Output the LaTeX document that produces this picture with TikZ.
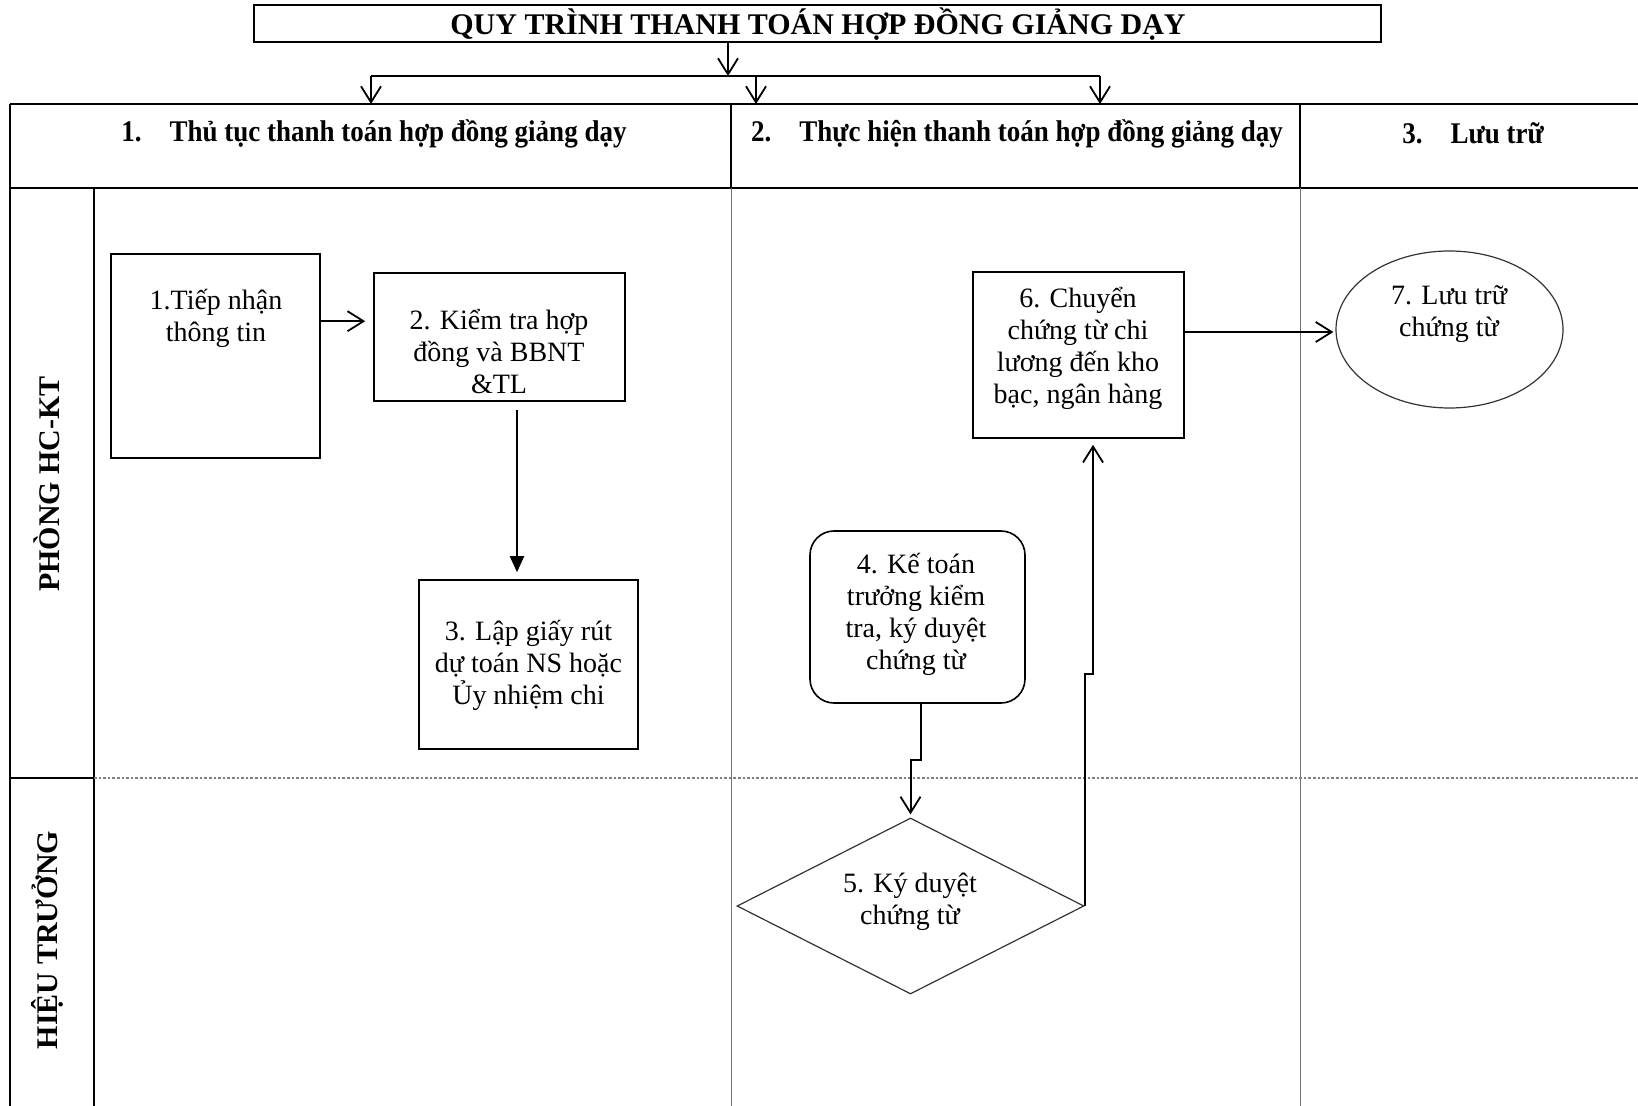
\documentclass[tikz,border=0pt]{standalone}
\usepackage{fontspec}
\setmainfont{Liberation Serif}
\newfontfamily\hdrfont{Liberation Serif}[FakeStretch=0.9]
\usetikzlibrary{shapes.geometric, arrows.meta, calc}

\begin{document}
\begin{tikzpicture}[x=0.5pt,y=-0.5pt,
  proc/.style={draw=black, line width=0.8pt, rectangle, inner sep=0pt},
  rproc/.style={draw=black, line width=0.8pt, rectangle, rounded corners=12pt, inner sep=0pt},
  dec/.style={draw=black!80, line width=0.6pt, diamond, inner sep=0pt},
  store/.style={draw=black!80, line width=0.6pt, ellipse, inner sep=0pt},
  lbl/.style={font=\fontsize{14pt}{16pt}\selectfont, align=center, inner sep=0pt},
  conn/.style={line width=1pt, -{Straight Barb[length=8pt,width=10pt,line width=0.9pt]}},
  fconn/.style={line width=1pt, -{Triangle[length=8pt,width=7pt]}},
  hdr/.style={font=\hdrfont\bfseries\fontsize{15pt}{18pt}\selectfont, inner sep=0pt},
  ttl/.style={font=\bfseries\fontsize{15pt}{18pt}\selectfont, inner sep=0pt},
  lane/.style={font=\bfseries\fontsize{15pt}{18pt}\selectfont, rotate=90, inner sep=0pt},
  tline/.style={line width=1.3pt},
  gline/.style={line width=0.5pt, draw=black!55},
  laneline/.style={line width=1.3pt, draw=black!50, densely dotted}
]
\useasboundingbox (0,0) rectangle (1638,1106);

% title
\node[draw=black, line width=0.8pt, minimum width=563.5pt, minimum height=18.5pt, inner sep=0pt] (tt) at (817.5,23.5) {};
\node[ttl] (ttt) at (818,24) {QUY TRÌNH THANH TOÁN HỢP ĐỒNG GIẢNG DẠY};

% bracket
\coordinate (tarr) at (728,42);
\coordinate (brL) at (371,76);
\coordinate (brM) at (756,76);
\coordinate (brR) at (1100,76);
\coordinate (brT) at (728,76);
\coordinate (c1) at (371,104);
\coordinate (c2) at (756,104);
\coordinate (c3) at (1100,104);
\draw[conn] (tarr) -- (brT);
\draw[tline] (brL) -- (brR);
\draw[conn] (brL) -- (c1);
\draw[conn] (brM) -- (c2);
\draw[conn] (brR) -- (c3);

% table
\draw[tline] (10,104) -- (1638,104);
\draw[tline] (10,188) -- (1638,188);
\draw[tline] (10,104) -- (10,1106);
\draw[line width=0.8pt] (94,188) -- (94,1106);
\draw[line width=0.6pt] (731,104) -- (731,188);
\draw[line width=0.6pt] (1300,104) -- (1300,188);
\draw[gline] (731,188) -- (731,1106);
\draw[gline] (1300,188) -- (1300,1106);
\draw[tline] (10,778) -- (94,778);
\draw[laneline] (94,778) -- (1638,778);

% headers
\node[hdr] (h1) at (374,134) {1.\hspace{14pt}Thủ tục thanh toán hợp đồng giảng dạy};
\node[hdr] (h2) at (1017,134) {2.\hspace{14pt}Thực hiện thanh toán hợp đồng giảng dạy};
\node[hdr] (h3) at (1473,133) {3.\hspace{14pt}Lưu trữ};

% lanes
\node[lane] (l1) at (47,484) {PHÒNG HC-KT};
\node[lane] (l2) at (47,940) {HIỆU TRƯỞNG};

% shapes
\node[proc, minimum width=104.5pt, minimum height=102pt] (b1) at (215.5,356) {};
\node[proc, minimum width=125.5pt, minimum height=64pt] (b2) at (499.5,337) {};
\node[proc, minimum width=109.5pt, minimum height=84.5pt] (b3) at (528.5,664.5) {};
\node[rproc, minimum width=107.5pt, minimum height=86pt] (b4) at (917.5,617) {};
\node[dec, minimum width=173.5pt, minimum height=88pt] (b5) at (910.5,906) {};
\node[proc, minimum width=105.5pt, minimum height=83pt] (b6) at (1078.5,355) {};
\node[store, minimum width=113.5pt, minimum height=78.5pt] (b7) at (1449.5,329.5) {};

% texts
\node[lbl] (t1) at (216,318) {1.Tiếp nhận\\thông tin};
\node[lbl] (t2) at (499,351) {2. Kiểm tra hợp\\đồng và BBNT\\\&TL};
\node[lbl] (t3) at (528.5,665) {3. Lập giấy rút\\dự toán NS hoặc\\Ủy nhiệm chi};
\node[lbl] (t4) at (916,614) {4. Kế toán\\trưởng kiểm\\tra, ký duyệt\\chứng từ};
\node[lbl] (t5) at (910,902) {5. Ký duyệt\\chứng từ};
\node[lbl] (t6) at (1078,348) {6. Chuyển\\chứng từ chi\\lương đến kho\\bạc, ngân hàng};
\node[lbl] (t7) at (1449,314) {7. Lưu trữ\\chứng từ};

% connectors
\draw[conn] ($(b1.north east)+(0,68)$) -- ($(b2.west |- b1.north east)+(-8,68)$);
\draw[fconn] ($(b2.south)+(17.5,8)$) -- ($(b3.north -| b2.south)+(17.5,-7)$);
\draw[conn, shorten >=1.5pt] ($(b4.south)+(3.5,0)$) -- ++(0,56) -| (b5.north);
\draw[conn] (b5.east) -- ++(0,-232) -| ($(b6.south)+(14.5,6)$);
\draw[conn] ($(b6.east)+(0,-23)$) -- ($(b7.west |- b6.east)+(-2,-23)$);
\end{tikzpicture}
\end{document}
